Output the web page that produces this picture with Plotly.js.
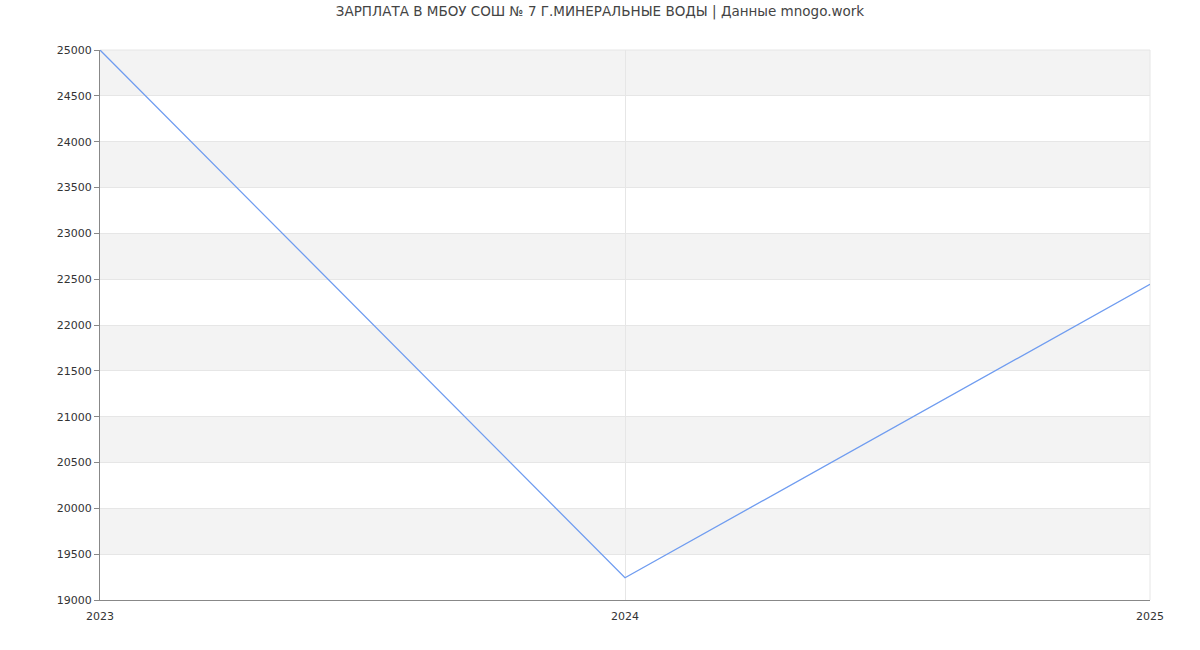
<!DOCTYPE html>
<html><head><meta charset="utf-8">
<script src="https://cdn.plot.ly/plotly-3.0.1.min.js"></script>
<style>html,body{margin:0;padding:0;background:#fff}#chart{width:1200px;height:650px}</style>
</head><body><div id="chart"></div>
<script>
const years = ["2023", "2024", "2025"];
const salaries = [25000, 19243, 22444];
const yTicks = [19000,19500,20000,20500,21000,21500,22000,22500,23000,23500,24000,24500,25000];

const shapes = [];
for (let i = 1; i < yTicks.length - 1; i += 2) {
  shapes.push({type:'rect', xref:'paper', yref:'y', x0:0, x1:1, y0:yTicks[i], y1:yTicks[i+1],
    fillcolor:'#f3f3f3', line:{width:0}, layer:'below'});
}
shapes.push({type:'line', xref:'paper', yref:'paper', x0:1, x1:1, y0:0, y1:1, line:{color:'#e6e6e6', width:1}, layer:'below'});
shapes.push({type:'line', xref:'paper', yref:'paper', x0:0, x1:1, y0:1, y1:1, line:{color:'#e6e6e6', width:1}, layer:'below'});

Plotly.newPlot('chart', [{
  x: years.map(Number), y: salaries, type:'scatter', mode:'lines',
  line:{color:'#6f9cf0', width:1.3}, hoverinfo:'x+y'
}], {
  width:1200, height:650,
  margin:{l:100, r:50, t:50, b:50},
  paper_bgcolor:'#fff', plot_bgcolor:'#fff',
  font:{family:'DejaVu Sans, sans-serif', size:11, color:'#333'},
  title:{text:'ЗАРПЛАТА В МБОУ СОШ № 7 Г.МИНЕРАЛЬНЫЕ ВОДЫ | Данные mnogo.work', x:0.5, xanchor:'center', y:0.99, yanchor:'top', font:{size:13.5, color:'#444'}},
  showlegend:false,
  shapes: shapes,
  xaxis:{range:[2023,2025], tickvals:years.map(Number), ticktext:years, showgrid:true, gridcolor:'#e6e6e6',
    showline:true, linecolor:'#888', linewidth:1, ticks:'outside', ticklen:6, tickcolor:'rgba(0,0,0,0)', zeroline:false, fixedrange:true, mirror:false},
  yaxis:{range:[19000,25000], tickvals:yTicks, ticktext:yTicks.map(String), showgrid:true, gridcolor:'#e6e6e6',
    showline:true, linecolor:'#888', linewidth:1, ticks:'outside', ticklen:5, tickcolor:'#888', zeroline:false, fixedrange:true}
}, {displayModeBar:false, staticPlot:true});
</script></body></html>
